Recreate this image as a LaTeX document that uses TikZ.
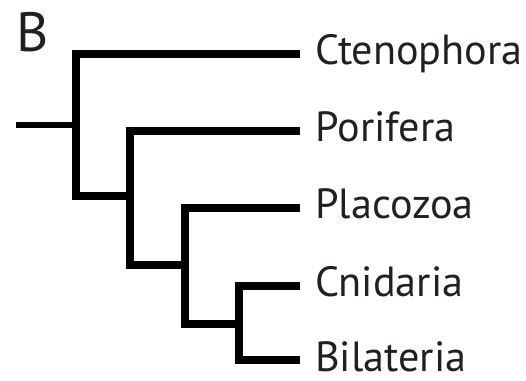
\documentclass[tikz,border=0pt]{standalone}
\usepackage{fontspec}
\usepackage{tikz}
\usetikzlibrary{positioning}
\newfontfamily\treefont{PT Sans}
\definecolor{inkgrey}{HTML}{231F20}
\tikzset{
	branch/.style={line width=4.6pt, line join=miter},
	stem/.style={line width=3.6pt},
	taxon/.style={anchor=west, inner xsep=0.3cm, inner ysep=0pt,
			text height=0.54cm, text depth=0.1cm, text=inkgrey,
			font=\treefont\fontsize{24}{28}\selectfont}
}

\begin{document}
\begin{tikzpicture}[x=0.02cm, y=-0.02cm]
  \useasboundingbox (0,0) rectangle (526,381);

  % panel letter
  \node[anchor=base west, inner sep=0pt, text=inkgrey,
    font=\treefont\fontsize{31.5}{34}\selectfont] (panel) at (16,52) {B};

  % taxa
  \node[taxon] (ctenophora) at (300,54) {Ctenophora};
  \node[taxon] (porifera) at (300,131) {Porifera};
  \node[taxon] (placozoa) at (300,208) {Placozoa};
  \node[taxon] (cnidaria) at (300,286) {Cnidaria};
  \node[taxon] (bilateria) at (300,360) {Bilateria};

  % internal nodes
  \coordinate (root) at (16,125);
  \coordinate (n1) at (76,125);
  \coordinate (n2) at (130,196);
  \coordinate (n3) at (185,265);
  \coordinate (n4) at (239,324);

  \draw[stem] (root) -- (n1);
  \draw[branch] (ctenophora.west) -| (n1) |- (n2);
  \draw[branch] (porifera.west) -| (n2) |- (n3);
  \draw[branch] (placozoa.west) -| (n3) |- (n4);
  \draw[branch] (cnidaria.west) -| (n4) |- (bilateria.west);

\end{tikzpicture}
\end{document}
